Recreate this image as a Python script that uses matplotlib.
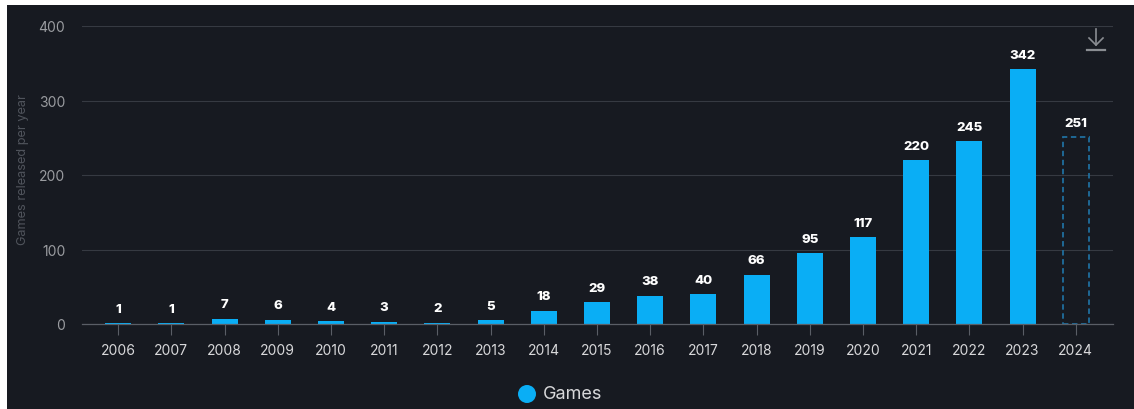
import matplotlib
matplotlib.use("Agg")
import matplotlib.pyplot as plt
from matplotlib.patches import Rectangle, Ellipse
from matplotlib.lines import Line2D

years = ["2006", "2007", "2008", "2009", "2010", "2011", "2012", "2013", "2014", "2015",
         "2016", "2017", "2018", "2019", "2020", "2021", "2022", "2023", "2024"]
games = [1, 1, 7, 6, 4, 3, 2, 5, 18, 29, 38, 40, 66, 95, 117, 220, 245, 342, 251]
partial = [False] * 18 + [True]
yticks = [0, 100, 200, 300, 400]
series_name = "Games"
ylabel = "Games released per year"

BG = "#171a21"
BAR = "#0aaef5"
GRID = "#363a42"

plt.rcParams['font.family'] = ['Inter', 'DejaVu Sans']

W, H = 1134, 410
fig = plt.figure(figsize=(W / 100, H / 100), dpi=100, facecolor=BG)
ax = fig.add_axes([82 / W, 1 - 325 / H, (1113 - 82) / W, (325 - 27) / H])
ax.set_facecolor(BG)

x = list(range(len(years)))
bw = 0.49
for xi, v, p in zip(x, games, partial):
    if p:
        ax.bar(xi, v, width=bw, facecolor="none", edgecolor="#1f6f9f",
               linestyle=(0, (3, 2)), linewidth=1.3, zorder=3)
    else:
        ax.bar(xi, v, width=bw, color=BAR, zorder=3)
    ax.annotate(str(v), (xi, v), xytext=(0, 6), textcoords="offset points",
                ha="center", va="bottom", color="white", fontsize=9.5,
                fontweight="heavy", zorder=4)

ax.set_ylim(0, 400)
ax.set_xlim(-0.68, len(years) - 1 + 0.70)
ax.set_yticks(yticks)
ax.set_yticklabels([str(t) for t in yticks])
ax.set_xticks(x)
ax.set_xticklabels(years)
ax.tick_params(axis="y", length=0, pad=12, labelcolor="#9a9ca0", labelsize=10)
ax.tick_params(axis="x", length=8, width=0.8, color="#5a5e66", pad=6,
               labelcolor="#d8d8da", labelsize=10)
ax.grid(axis="y", color=GRID, linewidth=0.8, zorder=0)
ax.set_axisbelow(True)
for s in ["top", "right", "left"]:
    ax.spines[s].set_visible(False)
ax.spines["bottom"].set_color("#5a5e66")
ax.spines["bottom"].set_linewidth(0.9)
ax.spines["bottom"].set_zorder(5)

fig.text(23 / W, 1 - 170 / H, ylabel, rotation=90, ha="center", va="center",
         color="#50545c", fontsize=9.2)

# legend
fig.patches.append(Ellipse((527 / W, 1 - 395 / H), 18 / W, 18 / H, transform=fig.transFigure,
                           facecolor=BAR, edgecolor="none"))
fig.text(543 / W, 1 - 395 / H, series_name, ha="left", va="center",
         color="#d8d8da", fontsize=13)

# download icon
ic = "#8a8d92"
cx, ytop, ybot = 1096, 30, 46
fig.lines.append(Line2D([cx / W, cx / W], [1 - ytop / H, 1 - ybot / H], transform=fig.transFigure, color=ic, lw=1.2))
fig.lines.append(Line2D([(cx - 7) / W, cx / W, (cx + 7) / W], [1 - (ybot - 7) / H, 1 - ybot / H, 1 - (ybot - 7) / H],
                        transform=fig.transFigure, color=ic, lw=1.2))
fig.lines.append(Line2D([(cx - 9) / W, (cx + 9) / W], [1 - 51 / H, 1 - 51 / H], transform=fig.transFigure, color=ic, lw=1.6))

# white border strips on top and left
fig.patches.append(Rectangle((0, 1 - 6 / H), 1, 6 / H, transform=fig.transFigure,
                             facecolor="white", edgecolor="none", zorder=10))
fig.patches.append(Rectangle((0, 0), 7 / W, 1, transform=fig.transFigure,
                             facecolor="white", edgecolor="none", zorder=10))

fig.savefig("out.png", dpi=100, facecolor=BG)
